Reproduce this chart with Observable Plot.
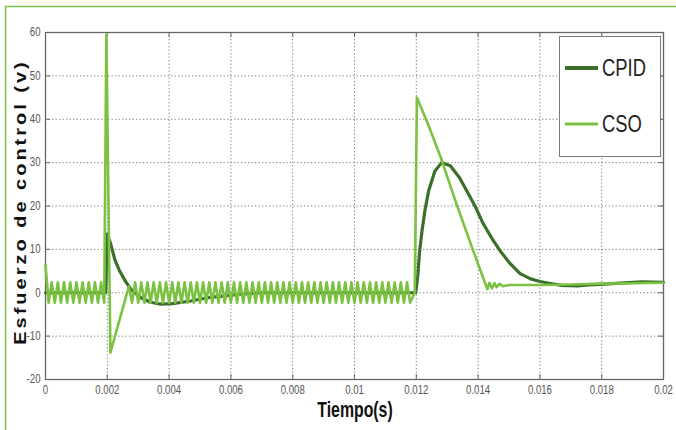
<!DOCTYPE html>
<html>
<head>
<meta charset="utf-8">
<script src="https://cdn.jsdelivr.net/npm/d3@7"></script>
<script src="https://cdn.jsdelivr.net/npm/@observablehq/plot@0.6"></script>
<style>
  html, body { margin: 0; padding: 0; background: #fff; }
  #chart svg { display: block; }
</style>
</head>
<body>
<div id="chart"></div>
<script>
// ---------- data ----------
const seriesNames = ["CPID", "CSO"];
const xTicks = [0, 0.002, 0.004, 0.006, 0.008, 0.01, 0.012, 0.014, 0.016, 0.018, 0.02];
const xTickLabels = ["0", "0.002", "0.004", "0.006", "0.008", "0.01", "0.012", "0.014", "0.016", "0.018", "0.02"];
const yTicks = [-20, -10, 0, 10, 20, 30, 40, 50, 60];
const yTickLabels = ["-20", "-10", "0", "10", "20", "30", "40", "50", "60"];
const xTitle = "Tiempo(s)";
const yTitle = "Esfuerzo de control (v)";

const cpidTime = [0, 0.00195, 0.00199, 0.0021, 0.00225, 0.0024, 0.0026, 0.0028, 0.0031, 0.0034,
  0.0037, 0.0041, 0.0047, 0.0052, 0.0058, 0.0063, 0.007, 0.0118, 0.01198, 0.01205,
  0.0121, 0.01218, 0.01228, 0.0124, 0.0126, 0.01282, 0.0131, 0.0134, 0.01363, 0.0139,
  0.01416, 0.01445, 0.01471, 0.015, 0.01536, 0.0157, 0.016, 0.0163, 0.0167, 0.0172,
  0.0176, 0.0181, 0.0186, 0.0193, 0.02];
const cpidValue = [0, 0, 13.5, 11.5, 7.5, 5, 2.5, 0.5, -1.2, -2.2,
  -2.6, -2.5, -1.9, -1.2, -0.7, -0.3, 0, 0, 0, 4,
  9, 14, 19, 23.5, 28, 30, 29.3, 26.5, 23.5, 20,
  16, 12.5, 9.7, 7, 4.4, 3.2, 2.6, 2.2, 1.7, 1.6,
  1.8, 2.0, 2.2, 2.5, 2.4];

const csoTime = [
  0, 0.0001, 0.0002, 0.0003, 0.0004, 0.0005, 0.0006, 0.0007, 0.0008, 0.0009,
  0.001, 0.0011, 0.0012, 0.0013, 0.0014, 0.0015, 0.0016, 0.0017, 0.0018, 0.0019,
  0.00197, 0.0021, 0.0027,
  0.0028, 0.0029, 0.003, 0.0031, 0.0032, 0.0033, 0.0034, 0.0035, 0.0036, 0.0037,
  0.0038, 0.0039, 0.004, 0.0041, 0.0042, 0.0043, 0.0044, 0.0045, 0.0046, 0.0047,
  0.0048, 0.0049, 0.005, 0.0051, 0.0052, 0.0053, 0.0054, 0.0055, 0.0056, 0.0057,
  0.0058, 0.0059, 0.006, 0.0061, 0.0062, 0.0063, 0.0064, 0.0065, 0.0066, 0.0067,
  0.0068, 0.0069, 0.007, 0.0071, 0.0072, 0.0073, 0.0074, 0.0075, 0.0076, 0.0077,
  0.0078, 0.0079, 0.008, 0.0081, 0.0082, 0.0083, 0.0084, 0.0085, 0.0086, 0.0087,
  0.0088, 0.0089, 0.009, 0.0091, 0.0092, 0.0093, 0.0094, 0.0095, 0.0096, 0.0097,
  0.0098, 0.0099, 0.01, 0.0101, 0.0102, 0.0103, 0.0104, 0.0105, 0.0106, 0.0107,
  0.0108, 0.0109, 0.011, 0.0111, 0.0112, 0.0113, 0.0114, 0.0115, 0.0116, 0.0117,
  0.0118, 0.01195, 0.01202,
  0.0124, 0.0128, 0.0133, 0.0138, 0.0143,
  0.01437, 0.01445, 0.01453, 0.0146, 0.0147, 0.0148, 0.015, 0.016, 0.017, 0.018, 0.019, 0.02
];
const csoValue = [
  6.5, -2.3, 2.4, -2.3, 2.4, -2.3, 2.4, -2.3, 2.4, -2.3,
  2.4, -2.3, 2.4, -2.3, 2.4, -2.3, 2.4, -2.3, 2.4, -2.3,
  59.5, -13.8, 1.5,
  -2.3, 2.4, -2.3, 2.4, -2.3, 2.4, -2.3, 2.4, -2.3, 2.4,
  -2.3, 2.4, -2.3, 2.4, -2.3, 2.4, -2.3, 2.4, -2.3, 2.4,
  -2.3, 2.4, -2.3, 2.4, -2.3, 2.4, -2.3, 2.4, -2.3, 2.4,
  -2.3, 2.4, -2.3, 2.4, -2.3, 2.4, -2.3, 2.4, -2.3, 2.4,
  -2.3, 2.4, -2.3, 2.4, -2.3, 2.4, -2.3, 2.4, -2.3, 2.4,
  -2.3, 2.4, -2.3, 2.4, -2.3, 2.4, -2.3, 2.4, -2.3, 2.4,
  -2.3, 2.4, -2.3, 2.4, -2.3, 2.4, -2.3, 2.4, -2.3, 2.4,
  -2.3, 2.4, -2.3, 2.4, -2.3, 2.4, -2.3, 2.4, -2.3, 2.4,
  -2.3, 2.4, -2.3, 2.4, -2.3, 2.4, -2.3, 2.4, -2.3, 2.4,
  -2.3, 0, 45,
  38.5, 31, 20.5, 10.5, 0.8,
  2.3, 1.0, 2.2, 1.3, 2.1, 1.5, 1.8, 1.8, 1.9, 2.1, 2.2, 2.3
];

// ---------- build ----------
const W = 676, H = 430;
const M = {left: 45, right: 13, top: 32, bottom: 51};
const PW = W - M.left - M.right, PH = H - M.top - M.bottom;
const colors = {CPID: "#3b6f2a", CSO: "#7cc242"};
const cpid = cpidTime.map((t, i) => ({t, v: cpidValue[i]}));
const cso = csoTime.map((t, i) => ({t, v: csoValue[i]}));
const xLab = new Map(xTicks.map((d, i) => [d, xTickLabels[i]]));
const yLab = new Map(yTicks.map((d, i) => [d, yTickLabels[i]]));
const sans = "'Liberation Sans', Arial, sans-serif";

const chart = Plot.plot({
  width: W, height: H,
  marginLeft: M.left, marginRight: M.right, marginTop: M.top, marginBottom: M.bottom,
  x: {domain: [0, 0.02]},
  y: {domain: [-20, 60]},
  style: {fontFamily: sans, fontSize: "12px", color: "#555", background: "#fff", overflow: "visible"},
  marks: [
    Plot.gridX(xTicks, {stroke: "#808080", strokeOpacity: 1, strokeDasharray: "1.3,2.2"}),
    Plot.gridY(yTicks, {stroke: "#808080", strokeOpacity: 1, strokeDasharray: "1.3,2.2"}),
    Plot.frame({stroke: "#666", strokeWidth: 1.3}),
    Plot.tickX(xTicks, {x: d => d, insetTop: PH - 5, stroke: "#666"}),
    Plot.tickX(xTicks, {x: d => d, insetBottom: PH - 5, stroke: "#666"}),
    Plot.tickY(yTicks, {y: d => d, insetRight: PW - 5, stroke: "#666"}),
    Plot.tickY(yTicks, {y: d => d, insetLeft: PW - 5, stroke: "#666"}),
    Plot.axisX(xTicks, {tickSize: 0, tickPadding: 6, tickFormat: d => xLab.get(d), label: null}),
    Plot.axisY(yTicks, {tickSize: 0, tickPadding: 5, tickFormat: d => yLab.get(d), label: null}),
    Plot.line(cpid, {x: "t", y: "v", stroke: colors.CPID, strokeWidth: 3.2, strokeLinejoin: "round"}),
    Plot.line(cso, {x: "t", y: "v", stroke: colors.CSO, strokeWidth: 2.6, strokeLinejoin: "round"})
  ]
});

const svg = d3.select(chart);

// outer green border (top and left)
svg.append("path").attr("d", "M5.5,430V6.5H676").attr("fill", "none")
  .attr("stroke", "#7cc242").attr("stroke-width", 1.5);

// axis titles
svg.append("text").text(xTitle).attr("data-squeeze", 0.72)
  .attr("x", 355).attr("y", 417).attr("text-anchor", "middle")
  .attr("font-family", sans).attr("font-weight", "bold").attr("font-size", 22).attr("fill", "#111");
svg.append("text").text(yTitle)
  .attr("transform", "translate(26,202) scale(0.78,1) rotate(-90)")
  .attr("text-anchor", "middle")
  .attr("font-family", sans).attr("font-weight", "bold")
  .attr("font-size", 20).attr("letter-spacing", 3).attr("fill", "#111");

// legend
const lg = svg.append("g");
lg.append("rect").attr("x", 559.5).attr("y", 36.5).attr("width", 101).attr("height", 120)
  .attr("fill", "#fff").attr("stroke", "#7a7a7a").attr("stroke-width", 1);
seriesNames.forEach((name, i) => {
  const y = 68 + i * 56;
  lg.append("line").attr("x1", 565).attr("x2", 598).attr("y1", y).attr("y2", y)
    .attr("stroke", colors[name]).attr("stroke-width", i === 0 ? 4 : 3);
  lg.append("text").text(name).attr("x", 602).attr("y", y).attr("dy", "0.36em")
    .attr("text-anchor", "start")
    .attr("font-family", sans).attr("font-size", 23).attr("fill", "#222");
});

document.getElementById("chart").append(chart);

// condense horizontal texts (narrow look of the original) via textLength
svg.selectAll("text").each(function() {
  if ((this.getAttribute("transform") || "").includes("rotate")) return;
  const k = +(this.getAttribute("data-squeeze") || 0.8);
  const len = this.getComputedTextLength();
  if (len > 0) {
    this.setAttribute("textLength", (len * k).toFixed(2));
    this.setAttribute("lengthAdjust", "spacingAndGlyphs");
  }
});
</script>
</body>
</html>
